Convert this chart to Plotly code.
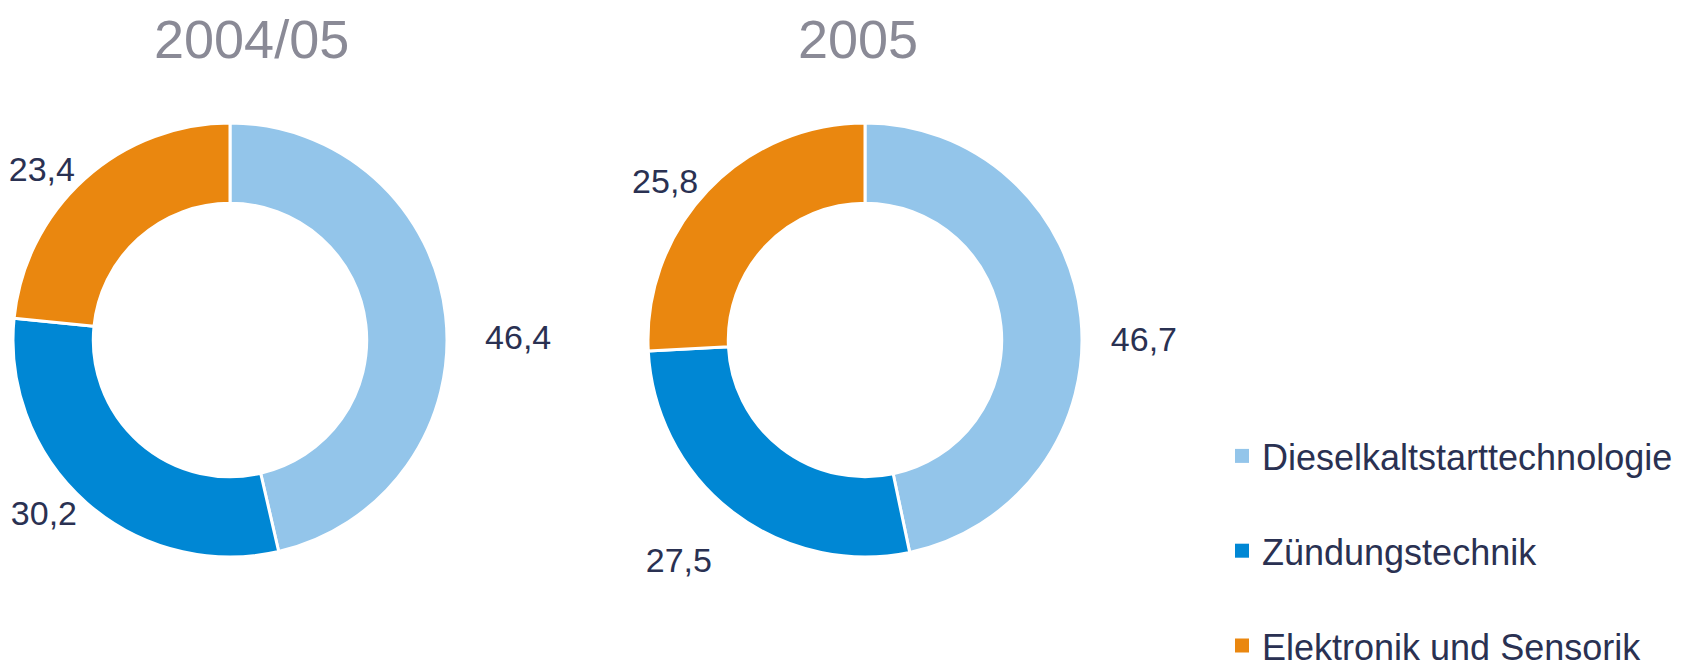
import plotly.graph_objects as go

categories = ["Dieselkaltstarttechnologie", "Zündungstechnik", "Elektronik und Sensorik"]
values_2004 = [46.4, 30.2, 23.4]
values_2005 = [46.7, 27.5, 25.8]
titles = ["2004/05", "2005"]
colors = ["#93c5ea", "#0087d4", "#ea870f"]

W, H = 1690, 666
font = "Liberation Sans, Arial, sans-serif"
navy = "#2a3152"
nb = "\u00a0"


def dom(cx, cy, d):
    # pie domain in paper units from a centre and diameter in pixels
    return dict(x=[(cx - d / 2) / W, (cx + d / 2) / W],
                y=[1 - (cy + d / 2) / H, 1 - (cy - d / 2) / H])


def fmt(v):
    return f"{v:.1f}".replace(".", ",")


fig = go.Figure()

# (values, centre x, padding for the right-hand label, drop the lower label a line?)
pies = [(values_2004, 222, 2, False), (values_2005, 857, 1, True)]
for vals, cx, pad_r, drop_low in pies:
    # an nbsp line on top drops the label a line lower; nbsp padding moves it sideways
    texts = [nb + "<br>" + nb * pad_r + fmt(vals[0]),
             (nb + "<br>" if drop_low else "") + fmt(vals[1]),
             fmt(vals[2])]
    fig.add_trace(go.Pie(
        labels=categories, values=vals, hole=0.63, sort=False,
        direction="clockwise", rotation=0,
        marker=dict(colors=colors, line=dict(color="white", width=3)),
        text=texts, textinfo="text", textposition="outside",
        textfont=dict(family=font, size=34, color=navy),
        domain=dom(cx, 332, 434), showlegend=False, hoverinfo="label+value",
    ))

# legend entries (the pies' own legend can't space items this far apart)
for lab, c in zip(categories, colors):
    fig.add_trace(go.Scatter(
        x=[None], y=[None], mode="markers", name=lab, legendgroup=lab,
        marker=dict(symbol="square", size=14, color=c),
    ))

for t, cx in zip(titles, [243, 850]):
    fig.add_annotation(text=t, x=cx / W, y=1, xref="paper", yref="paper",
                       xanchor="center", yanchor="top", showarrow=False,
                       borderpad=0, font=dict(family=font, size=54, color="#8a8a96"))

fig.update_layout(
    width=W, height=H, margin=dict(l=0, r=0, t=0, b=0, autoexpand=False),
    paper_bgcolor="white", plot_bgcolor="white",
    xaxis=dict(visible=False), yaxis=dict(visible=False),
    legend=dict(x=1214 / W, y=1 - 418 / H, xanchor="left", yanchor="top",
                font=dict(family=font, size=36, color=navy),
                tracegroupgap=45, bgcolor="rgba(0,0,0,0)"),
)

fig.write_html("out.html")
